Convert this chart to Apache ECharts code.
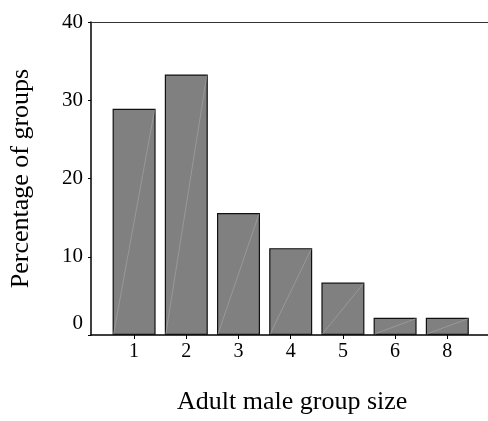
<!DOCTYPE html>
<html>
<head>
<meta charset="utf-8">
<script src="https://cdn.jsdelivr.net/npm/echarts@6/dist/echarts.min.js"></script>
<style>
html,body{margin:0;padding:0;background:#fff;}
#chart{width:488px;height:421px;}
</style>
</head>
<body>
<div id="chart"></div>
<script>
const categories = ['1', '2', '3', '4', '5', '6', '8'];
const percentages = [28.9, 33.3, 15.6, 11.1, 6.7, 2.2, 2.2];
const yTicks = [0, 10, 20, 30, 40];
const xTitle = 'Adult male group size';
const yTitle = 'Percentage of groups';

const FONT = '"Liberation Serif", "Times New Roman", serif';
const BAR_W = 43;
const chart = echarts.init(document.getElementById('chart'), null, {renderer: 'canvas'});

const option = {
  animation: false,
  backgroundColor: '#ffffff',
  grid: [
    {left: 108, right: 14.6, top: 22, bottom: 86, containLabel: false},
    {left: 90, right: 0, top: 22, bottom: 86, containLabel: false}
  ],
  xAxis: [
    {
      gridIndex: 0,
      type: 'category',
      data: categories,
      axisLine: {show: false},
      axisTick: {show: true, alignWithLabel: true, length: 4, lineStyle: {color: '#000', width: 1}},
      axisLabel: {color: '#000', fontFamily: FONT, fontSize: 20, margin: 7},
      name: xTitle,
      nameLocation: 'middle',
      nameGap: 54,
      nameTextStyle: {color: '#000', fontFamily: FONT, fontSize: 26, padding: [0, 0, 0, 3]}
    },
    {
      gridIndex: 1,
      type: 'value',
      min: 0, max: 1,
      position: 'bottom',
      axisLine: {show: true, onZero: false, lineStyle: {color: '#000', width: 1.5}},
      axisTick: {show: false},
      axisLabel: {show: false},
      splitLine: {show: false}
    },
    {
      gridIndex: 1,
      type: 'value',
      min: 0, max: 1,
      position: 'top',
      axisLine: {show: true, onZero: false, lineStyle: {color: '#333', width: 1.2}},
      axisTick: {show: false},
      axisLabel: {show: false},
      splitLine: {show: false}
    }
  ],
  yAxis: [
    {
      gridIndex: 0,
      type: 'value',
      min: yTicks[0], max: yTicks[yTicks.length - 1], interval: 10,
      show: false
    },
    {
      gridIndex: 1,
      type: 'value',
      min: yTicks[0], max: yTicks[yTicks.length - 1], interval: 10,
      axisLine: {show: true, lineStyle: {color: '#000', width: 1.5}},
      axisTick: {show: true, length: 3, lineStyle: {color: '#000', width: 1}},
      splitLine: {show: false},
      axisLabel: {
        color: '#000', fontFamily: FONT, fontSize: 21, margin: 8,
        formatter: function (v) { return v === 0 ? '{z|0}' : String(v); },
        rich: {z: {color: '#000', fontFamily: FONT, fontSize: 21, padding: [0, 0, 24, 0]}}
      },
      name: yTitle,
      nameLocation: 'middle',
      nameGap: 57,
      nameRotate: 90,
      nameTextStyle: {color: '#000', fontFamily: FONT, fontSize: 26}
    }
  ],
  series: [
    {
      type: 'bar',
      xAxisIndex: 0,
      yAxisIndex: 0,
      data: percentages,
      barWidth: BAR_W,
      itemStyle: {color: '#808080', borderColor: '#111', borderWidth: 1.2},
      z: 2
    },
    {
      type: 'custom',
      xAxisIndex: 0,
      yAxisIndex: 0,
      data: percentages.map(function (v, i) { return [i, v]; }),
      silent: true,
      z: 3,
      renderItem: function (params, api) {
        const i = api.value(0);
        const v = api.value(1);
        const p0 = api.coord([i, 0]);
        const p1 = api.coord([i, v]);
        const hw = BAR_W / 2 - 1;
        return {
          type: 'line',
          shape: {x1: p0[0] - hw, y1: p0[1] - 1, x2: p1[0] + hw, y2: p1[1] + 1},
          style: {stroke: '#a8a8a8', lineWidth: 0.6}
        };
      }
    }
  ]
};
chart.setOption(option);
</script>
</body>
</html>
